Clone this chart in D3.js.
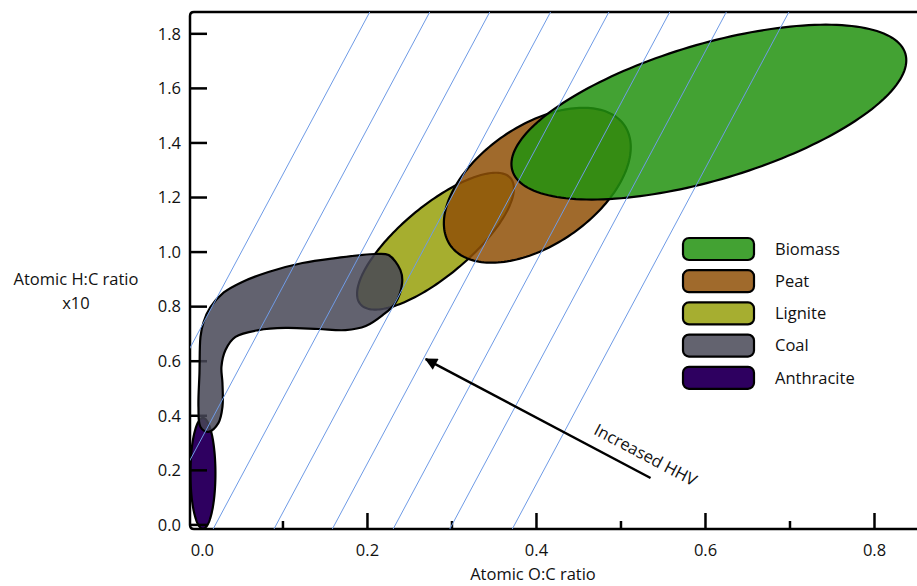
<!DOCTYPE html>
<html>
<head>
<meta charset="utf-8">
<script src="https://cdn.jsdelivr.net/npm/d3@7"></script>
<style>
  body { margin: 0; background: #fff; }
  svg { display: block; font-family: "Open Sans", "DejaVu Sans", sans-serif; }
</style>
</head>
<body>
<svg id="chart" width="917" height="586"></svg>
<script>
// Van Krevelen style diagram: H:C vs O:C regions for solid fuels

var categories = ["Biomass", "Peat", "Lignite", "Coal", "Anthracite"];

// ellipse regions: centre, major half-axis vector, minor half-axis vector (data units)
var biomassRegion = { cx: 0.604, cy: 1.513, u: [0.2325, 0.2145], v: [0.0230, -0.2381] };
var peatRegion = { cx: 0.401, cy: 1.245, u: [0.1031, 0.2194], v: [0.0400, -0.1802] };
var ligniteRegion = { cx: 0.2805, cy: 1.040, u: [0.0889, 0.2308], v: [0.0266, -0.0982] };
var anthraciteRegion = { cx: 0.0053, cy: 0.189, u: [0, 0.203], v: [0.0148, 0] };

// coal is an irregular blob, outline points (O:C, H:C)
var coalOutline = [
  [0.0024, 0.689], [0.0059, 0.742], [0.0140, 0.797], [0.0300, 0.852], [0.0500, 0.888],
  [0.0828, 0.927], [0.123, 0.960], [0.162, 0.978], [0.209, 0.993], [0.225, 0.989],
  [0.239, 0.934], [0.241, 0.886], [0.233, 0.813], [0.218, 0.769], [0.198, 0.729],
  [0.174, 0.714], [0.142, 0.718], [0.103, 0.722], [0.071, 0.714], [0.0438, 0.689],
  [0.032, 0.641], [0.0272, 0.579], [0.0284, 0.520], [0.0284, 0.432], [0.0237, 0.374],
  [0.0118, 0.341], [0.0024, 0.359], [0.0, 0.432], [0.0012, 0.557]
];

// iso-HHV lines: O:C intercept at H:C = 0, common slope
var hhvIntercepts = [-0.122, -0.051, 0.020, 0.092, 0.161, 0.233, 0.300, 0.374];
var hhvSlope = 5.79;

var arrowFrom = [0.535, 0.172];
var arrowTo = [0.269, 0.608];
var arrowLabel = "Increased HHV";

var yTicks = [0, 0.2, 0.4, 0.6, 0.8, 1.0, 1.2, 1.4, 1.6, 1.8];
var xMajorTicks = [0.2, 0.4, 0.6, 0.8];
var xLabelTicks = [0, 0.2, 0.4, 0.6, 0.8];
var xMinorTicks = [0.1, 0.3, 0.5, 0.7];

// styles
var shownColors = ["#43a233", "#a06a2c", "#a6ae30", "#63636f", "#2e0060"];
var fillOpacity = 0.85;
var fontSize = 16.5;

var svg = d3.select("#chart");

var x = d3.scaleLinear().domain([-0.01, 0.9]).range([190, 959]);
var y = d3.scaleLinear().domain([-0.015, 1.88]).range([529, 12]);

// colour that, at fillOpacity over white, looks like the shown colour
function underColor(c) {
  var rgb = d3.rgb(c);
  function f(v) { return Math.max(0, Math.min(255, (v - (1 - fillOpacity) * 255) / fillOpacity)); }
  return d3.rgb(f(rgb.r), f(rgb.g), f(rgb.b)).formatHex();
}

function ellipsePoints(r) {
  return d3.range(0, 360, 2).map(function(deg) {
    var t = deg * Math.PI / 180;
    return [r.cx + r.u[0] * Math.cos(t) + r.v[0] * Math.sin(t),
            r.cy + r.u[1] * Math.cos(t) + r.v[1] * Math.sin(t)];
  });
}

var lineClosed = d3.line()
  .x(function(d) { return x(d[0]); })
  .y(function(d) { return y(d[1]); })
  .curve(d3.curveLinearClosed);

var lineSmooth = d3.line()
  .x(function(d) { return x(d[0]); })
  .y(function(d) { return y(d[1]); })
  .curve(d3.curveCatmullRomClosed.alpha(0.5));

svg.append("defs").append("clipPath").attr("id", "plotClip")
  .append("rect")
    .attr("x", x(-0.01)).attr("y", y(1.88))
    .attr("width", x(0.9) - x(-0.01)).attr("height", y(-0.015) - y(1.88));

// anthracite sits under the axis ticks
svg.append("path")
  .attr("d", lineClosed(ellipsePoints(anthraciteRegion)))
  .attr("fill", shownColors[4])
  .attr("stroke", "#000").attr("stroke-width", 2.2);

// axes frame
var x0 = x(-0.01), y0 = y(-0.015), yTop = y(1.88), xEnd = x(0.9), rc = 4;
svg.append("path")
  .attr("d", "M" + xEnd + "," + yTop + "H" + (x0 + rc) + "Q" + x0 + "," + yTop + " " + x0 + "," + (yTop + rc) +
    "V" + (y0 - rc) + "Q" + x0 + "," + y0 + " " + (x0 + rc) + "," + y0 + "H" + xEnd)
  .attr("fill", "none").attr("stroke", "#000").attr("stroke-width", 2.5);

var axisG = svg.append("g").attr("stroke", "#000").attr("stroke-width", 2.5);
axisG.selectAll(".ytick").data(yTicks).enter().append("line")
  .attr("x1", x0).attr("x2", x0 + 17)
  .attr("y1", function(d) { return y(d); }).attr("y2", function(d) { return y(d); });
axisG.selectAll(".xmaj").data(xMajorTicks).enter().append("line")
  .attr("x1", function(d) { return x(d); }).attr("x2", function(d) { return x(d); })
  .attr("y1", y0).attr("y2", y0 - 16);
axisG.selectAll(".xmin").data(xMinorTicks).enter().append("line")
  .attr("x1", function(d) { return x(d); }).attr("x2", function(d) { return x(d); })
  .attr("y1", y0).attr("y2", y0 - 8);

svg.selectAll(".ylab").data(yTicks).enter().append("text")
  .attr("x", 181).attr("y", function(d) { return y(d); })
  .attr("dy", "0.35em").attr("text-anchor", "end")
  .attr("font-size", fontSize).attr("fill", "#111")
  .text(function(d) { return d3.format(".1f")(d); });

svg.selectAll(".xlab").data(xLabelTicks).enter().append("text")
  .attr("x", function(d) { return x(d) + (d === 0 ? 4 : 0); }).attr("y", 556)
  .attr("text-anchor", "middle")
  .attr("font-size", fontSize).attr("fill", "#111")
  .text(function(d) { return d3.format(".1f")(d); });

svg.append("text").attr("x", 533).attr("y", 580).attr("text-anchor", "middle")
  .attr("font-size", fontSize).attr("fill", "#111").text("Atomic O:C ratio");
svg.append("text").attr("x", 76).attr("y", 285).attr("text-anchor", "middle")
  .attr("font-size", fontSize).attr("fill", "#111").text("Atomic H:C ratio");
svg.append("text").attr("x", 76).attr("y", 309).attr("text-anchor", "middle")
  .attr("font-size", fontSize).attr("fill", "#111").text("x10");

// regions, bottom to top
var regions = [
  { d: lineClosed(ellipsePoints(ligniteRegion)), i: 2 },
  { d: lineSmooth(coalOutline), i: 3 },
  { d: lineClosed(ellipsePoints(peatRegion)), i: 1 },
  { d: lineClosed(ellipsePoints(biomassRegion)), i: 0 }
];
svg.selectAll(".region").data(regions).enter().append("path")
  .attr("class", "region")
  .attr("d", function(r) { return r.d; })
  .attr("fill", function(r) { return underColor(shownColors[r.i]); })
  .attr("fill-opacity", fillOpacity)
  .attr("stroke", "#000").attr("stroke-width", 2.2);

// iso-HHV lines
var yLo = -0.015, yHi = 1.88;
svg.append("g").attr("clip-path", "url(#plotClip)")
  .selectAll("line").data(hhvIntercepts).enter().append("line")
    .attr("x1", function(d) { return x(d + yLo / hhvSlope); })
    .attr("y1", y(yLo))
    .attr("x2", function(d) { return x(d + yHi / hhvSlope); })
    .attr("y2", y(yHi))
    .attr("stroke", "#6f9be6").attr("stroke-width", 1);

// arrow
svg.append("defs").append("marker")
  .attr("id", "arrowHead").attr("viewBox", "0 0 10 10")
  .attr("refX", 9).attr("refY", 5)
  .attr("markerWidth", 6).attr("markerHeight", 5)
  .attr("markerUnits", "strokeWidth")
  .attr("orient", "auto")
  .append("path").attr("d", "M0,0L10,5L0,10z").attr("fill", "#000");

svg.append("line")
  .attr("x1", x(arrowFrom[0])).attr("y1", y(arrowFrom[1]))
  .attr("x2", x(arrowTo[0])).attr("y2", y(arrowTo[1]))
  .attr("stroke", "#000").attr("stroke-width", 2.5)
  .attr("marker-end", "url(#arrowHead)");

var ang = Math.atan2(y(arrowFrom[1]) - y(arrowTo[1]), x(arrowFrom[0]) - x(arrowTo[0])) * 180 / Math.PI;
var lx = x(arrowFrom[0]) - 5, ly = y(arrowFrom[1]) - 23;
svg.append("text")
  .attr("transform", "translate(" + lx + "," + ly + ") rotate(" + ang + ")")
  .attr("text-anchor", "middle").attr("dy", "0.35em")
  .attr("font-size", fontSize).attr("fill", "#111")
  .text(arrowLabel);

// legend
var legend = svg.append("g").attr("transform", "translate(683,238)");
var rows = legend.selectAll("g").data(categories).enter().append("g")
  .attr("transform", function(d, i) { return "translate(0," + (i * 32.2) + ")"; });
rows.append("rect")
  .attr("width", 71).attr("height", 22).attr("rx", 6)
  .attr("fill", function(d, i) { return shownColors[i]; })
  .attr("stroke", "#000").attr("stroke-width", 2.2);
rows.append("text")
  .attr("x", 92).attr("y", 11).attr("dy", "0.35em")
  .attr("font-size", fontSize).attr("fill", "#111")
  .text(function(d) { return d; });
</script>
</body>
</html>
